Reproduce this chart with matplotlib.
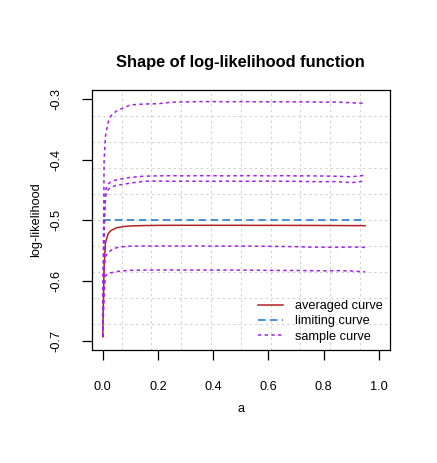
import numpy as np
import matplotlib
matplotlib.use('Agg')
import matplotlib.pyplot as plt

plt.rcParams['font.family'] = ['Liberation Sans', 'DejaVu Sans']
plt.rcParams['lines.scale_dashes'] = False

# grid of a values and the curves
a = [0.0, 0.005, 0.01, 0.02, 0.03, 0.05, 0.075, 0.1, 0.15, 0.2, 0.25, 0.3, 0.35,
     0.4, 0.45, 0.5, 0.55, 0.6, 0.65, 0.7, 0.75, 0.8, 0.85, 0.9, 0.95]

averaged = [-0.693, -0.575, -0.537, -0.522, -0.517, -0.5125, -0.5105, -0.5095, -0.5088,
            -0.5085, -0.5084, -0.5084, -0.5084, -0.5084, -0.5084, -0.5084, -0.5085,
            -0.5085, -0.5085, -0.5086, -0.5086, -0.5087, -0.5088, -0.5089, -0.509]

limiting_value = -0.5

samples = [
    [-0.693, -0.40, -0.36, -0.337, -0.327, -0.319, -0.314, -0.309, -0.3075, -0.307,
     -0.3045, -0.304, -0.3035, -0.3035, -0.3038, -0.3035, -0.3038, -0.3038, -0.3038,
     -0.304, -0.304, -0.3045, -0.3042, -0.3055, -0.3062],
    [-0.693, -0.50, -0.45, -0.440, -0.436, -0.433, -0.431, -0.429, -0.427, -0.4265,
     -0.4262, -0.4265, -0.4262, -0.4262, -0.4265, -0.4262, -0.4262, -0.4265, -0.4262,
     -0.4265, -0.4265, -0.4268, -0.4272, -0.428, -0.4255],
    [-0.693, -0.52, -0.46, -0.449, -0.4455, -0.442, -0.4405, -0.4385, -0.4355, -0.435,
     -0.4355, -0.4352, -0.4355, -0.4355, -0.4352, -0.4355, -0.4355, -0.4352, -0.4355,
     -0.4355, -0.436, -0.4362, -0.436, -0.4378, -0.435],
    [-0.693, -0.58, -0.56, -0.553, -0.550, -0.5455, -0.5438, -0.543, -0.5427, -0.5427,
     -0.5427, -0.5428, -0.5427, -0.5428, -0.5428, -0.5428, -0.543, -0.5432, -0.5435,
     -0.5438, -0.5445, -0.5447, -0.5448, -0.5443, -0.545],
    [-0.693, -0.62, -0.592, -0.588, -0.587, -0.585, -0.5838, -0.583, -0.5825, -0.5825,
     -0.5824, -0.5825, -0.5825, -0.5826, -0.5825, -0.5826, -0.5828, -0.583, -0.5832,
     -0.5832, -0.5835, -0.5838, -0.5835, -0.584, -0.5856],
]

x_ticks = [0.0, 0.2, 0.4, 0.6, 0.8, 1.0]
y_ticks = [-0.7, -0.6, -0.5, -0.4, -0.3]

fs = 9.2

fig = plt.figure(figsize=(4.37, 4.63), dpi=100)
ax = fig.add_axes([0.2098, 0.2441, 0.6826, 0.5615])

ax.set_xlim(-0.04, 1.04)
ax.set_ylim(-0.7149, -0.2843)

# R style grid(10, 10): equally spaced cells across the plotting region
for f in np.linspace(0, 1, 11)[1:-1]:
    ax.plot([f, f], [0, 1], transform=ax.transAxes, color='#d3d3d3', lw=0.8,
            dashes=(1.7, 2.2), zorder=0)
    ax.plot([0, 1], [f, f], transform=ax.transAxes, color='#d3d3d3', lw=0.8,
            dashes=(1.7, 2.2), zorder=0)

ax.plot(a, averaged, color='#B22222', lw=1.1, label='averaged curve', zorder=3)
ax.plot(a, [limiting_value] * len(a), color='#1874CD', lw=1.1, dashes=(5.4, 3.2),
        label='limiting curve', zorder=3)
for i, s in enumerate(samples):
    ax.plot(a, s, color='#A020F0', lw=1.1, dashes=(2.4, 2.4),
            label='sample curve' if i == 0 else None, zorder=4)

ax.set_xticks(x_ticks)
ax.set_xticklabels(['0.0', '0.2', '0.4', '0.6', '0.8', '1.0'])
ax.set_yticks(y_ticks)
ax.set_yticklabels(['-0.7', '-0.6', '-0.5', '-0.4', '-0.3'], rotation=90, va='center')
ax.tick_params(direction='out', length=7.5, width=0.9, labelsize=fs)
ax.tick_params(axis='x', pad=14.5)
ax.tick_params(axis='y', pad=13.3)
for sp in ax.spines.values():
    sp.set_linewidth(0.9)

ax.set_xlabel('a', fontsize=fs, labelpad=7.8)
ax.set_ylabel('log-likelihood', fontsize=fs, labelpad=6.5)
ax.set_title('Shape of log-likelihood function', fontsize=11.8, fontweight='bold', pad=16.5)

ax.legend(loc='upper left', bbox_to_anchor=(0.5575, 0.1912), frameon=False,
          fontsize=fs, borderpad=0, borderaxespad=0, handlelength=1.95,
          handletextpad=0.94, labelspacing=0.25)

fig.savefig('out.png', dpi=100)
